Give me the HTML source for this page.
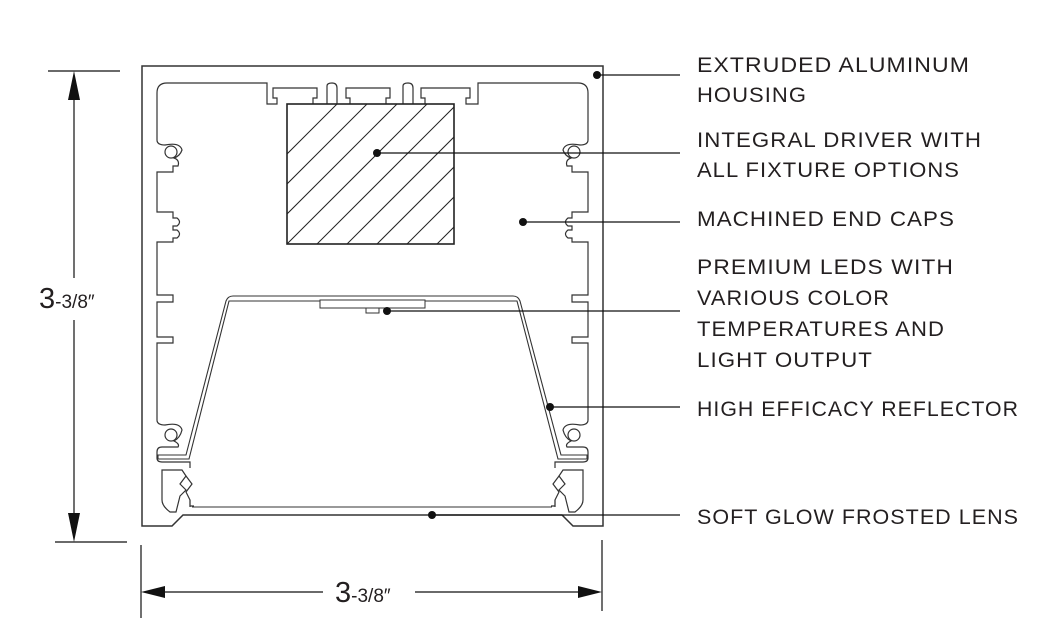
<!DOCTYPE html>
<html><head><meta charset="utf-8"><style>
html,body{margin:0;padding:0;background:#fff}
svg{display:block}
text{font-family:"Liberation Sans",sans-serif;fill:#231f20}
</style></head><body>
<svg width="1049" height="624" viewBox="0 0 1049 624" xmlns="http://www.w3.org/2000/svg">
<defs>
<clipPath id="dc"><rect x="287" y="104" width="167" height="140"/></clipPath>
<g id="side" fill="none" stroke="#333" stroke-width="1.2">
  <!-- left inner wall pieces -->
  <path d="M157,93 L157,140 Q157,145 165,145 Q180,142 182,150 Q180,156 174,158 Q180,160 178,166 L173,166 L173,172 L157,172 L157,212 L173,212 L173,218 L177,218 Q182,222 177,226 L173,226 L173,230 L177,230 Q182,234 177,238 L173,238 L173,242 L157,242 L157,295 L173,295 L173,302 L157,302 L157,337 L173,337 L173,343 L157,343 L157,420 Q157,425 165,425 Q180,422 182,430 Q180,438 174,441 Q180,444 178,447 L162,447 Q157,447 157,452 L157,458 Q157,462 162,462 L190,462 L190,468"/>
  <circle cx="171" cy="152" r="6"/>
  <circle cx="171" cy="435" r="6"/>
  <path d="M162,470 L162,500 Q162,506 170,512 L176,512 L180,496 L186,490 L180,484 L186,476 L182,470 Z"/>
  <path d="M186,476 L192,484 L186,492 L190,500 L190,506 L194,506"/>
</g>
</defs>
<!-- outer housing -->
<path d="M142,66 L603,66 L603,526 L573,526 L562,515 L183,515 L172,526 L142,526 Z" fill="none" stroke="#333" stroke-width="1.5"/>
<!-- inner top contour -->
<path d="M157,93 Q157,83 167,83 L267,83 L267,104 L277,104 L277,98 L273,98 L273,88 L317,88 L317,98 L313,98 L313,104 M327,104 L327,86 Q327,83 332,83 Q337,83 337,88 L337,104 M350,104 L350,98 L346,98 L346,88 L390,88 L390,98 L386,98 L386,104 M403,104 L403,86 Q403,83 408,83 Q413,83 413,88 L413,104 M425,104 L425,98 L421,98 L421,88 L470,88 L470,98 L466,98 L466,104 L478,104 L478,83 L578,83 Q588,83 588,93" fill="none" stroke="#333" stroke-width="1.2"/>
<use href="#side"/>
<use href="#side" transform="translate(745,0) scale(-1,1)"/>
<!-- driver -->
<rect x="287" y="104" width="167" height="140" fill="#fff" stroke="#222" stroke-width="1.6"/>
<g clip-path="url(#dc)" stroke="#222" stroke-width="1">
  <path d="M257,274 L427,104 M287,274 L457,104 M317,274 L487,104 M347,274 L517,104 M377,274 L547,104 M407,274 L577,104 M437,274 L607,104 M227,274 L397,104 M197,274 L367,104 M167,274 L337,104"/>
</g>
<!-- reflector -->
<path d="M158,455 L186,455 L226,301 Q228,296 233,296 L513,296 Q518,296 520,301 L561,455 L587,455 L587,459 L558,459 L517,301 L229,301 L189,459 L158,459 Z" fill="none" stroke="#333" stroke-width="1.1"/>
<!-- led -->
<rect x="320" y="300" width="105" height="8" fill="#fff" stroke="#333" stroke-width="1"/>
<rect x="366" y="308" width="13" height="5" fill="#fff" stroke="#333" stroke-width="1"/>
<!-- lens -->
<path d="M192,507 L552,507 M190,500 L190,507 M555,500 L555,507" fill="none" stroke="#333" stroke-width="1.1"/>
<!-- leaders -->
<g stroke="#111" stroke-width="1.3">
<line x1="597" y1="75" x2="680" y2="75"/>
<line x1="377" y1="153" x2="680" y2="153"/>
<line x1="523" y1="222" x2="680" y2="222"/>
<line x1="387" y1="311" x2="680" y2="311"/>
<line x1="550" y1="407" x2="680" y2="407"/>
<line x1="432" y1="515" x2="680" y2="515"/>
</g>
<g fill="#111">
<circle cx="597" cy="75" r="4"/><circle cx="377" cy="153" r="4"/><circle cx="523" cy="222" r="4"/>
<circle cx="387" cy="311" r="4"/><circle cx="550" cy="407" r="4"/><circle cx="432" cy="515" r="4"/>
</g>
<!-- labels -->
<g font-size="21" letter-spacing="1">
<text x="697" y="72" textLength="273" lengthAdjust="spacingAndGlyphs">EXTRUDED ALUMINUM</text>
<text x="697" y="102" textLength="110" lengthAdjust="spacingAndGlyphs">HOUSING</text>
<text x="697" y="147" textLength="285" lengthAdjust="spacingAndGlyphs">INTEGRAL DRIVER WITH</text>
<text x="697" y="177" textLength="263" lengthAdjust="spacingAndGlyphs">ALL FIXTURE OPTIONS</text>
<text x="697" y="226" textLength="258" lengthAdjust="spacingAndGlyphs">MACHINED END CAPS</text>
<text x="697" y="274" textLength="257" lengthAdjust="spacingAndGlyphs">PREMIUM LEDS WITH</text>
<text x="697" y="305" textLength="193" lengthAdjust="spacingAndGlyphs">VARIOUS COLOR</text>
<text x="697" y="336" textLength="248" lengthAdjust="spacingAndGlyphs">TEMPERATURES AND</text>
<text x="697" y="367" textLength="176" lengthAdjust="spacingAndGlyphs">LIGHT OUTPUT</text>
<text x="697" y="416" textLength="322" lengthAdjust="spacingAndGlyphs">HIGH EFFICACY REFLECTOR</text>
<text x="697" y="524" textLength="322" lengthAdjust="spacingAndGlyphs">SOFT GLOW FROSTED LENS</text>
</g>
<!-- vertical dimension -->
<g stroke="#111" stroke-width="1.2">
<line x1="48" y1="71" x2="120" y2="71"/>
<line x1="55" y1="542" x2="127" y2="542"/>
<line x1="74" y1="85" x2="74" y2="278"/>
<line x1="74" y1="320" x2="74" y2="528"/>
<line x1="141" y1="545" x2="141" y2="618"/>
<line x1="602" y1="540" x2="602" y2="611"/>
<line x1="155" y1="592" x2="323" y2="592"/>
<line x1="415" y1="592" x2="588" y2="592"/>
</g>
<g fill="#111">
<path d="M74,71 L68,100 L80,100 Z"/>
<path d="M74,542 L68,513 L80,513 Z"/>
<path d="M141,592 L165,586 L165,598 Z"/>
<path d="M602,592 L578,586 L578,598 Z"/>
</g>
<text x="39" y="308" font-size="29">3<tspan font-size="19">-3/8″</tspan></text>
<text x="335" y="602" font-size="29">3<tspan font-size="19">-3/8″</tspan></text>
</svg>
</body></html>
